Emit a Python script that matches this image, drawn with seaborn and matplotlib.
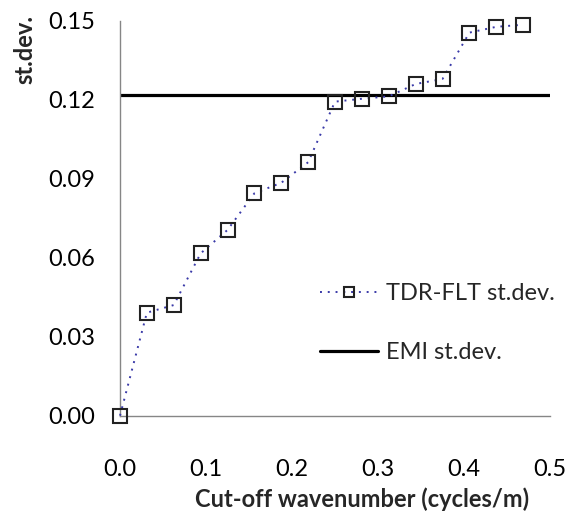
import matplotlib
matplotlib.use("Agg")
import matplotlib.pyplot as plt
import seaborn as sns
import pandas as pd
from matplotlib.ticker import FormatStrFormatter

# Data
cutoff = [0.0, 0.03125, 0.0625, 0.09375, 0.125, 0.15625, 0.1875, 0.21875,
          0.25, 0.28125, 0.3125, 0.34375, 0.375, 0.40625, 0.4375, 0.46875]
tdr_std = [0.0, 0.0391, 0.0420, 0.0616, 0.0705, 0.0844, 0.0884, 0.0962,
           0.1192, 0.1203, 0.1212, 0.1259, 0.1278, 0.1454, 0.1476, 0.1484]
emi_std = 0.1217
x_ticks = [0.0, 0.1, 0.2, 0.3, 0.4, 0.5]
y_ticks = [0.00, 0.03, 0.06, 0.09, 0.12, 0.15]
series_tdr = "TDR-FLT st.dev."
series_emi = "EMI st.dev."
x_label = "Cut-off wavenumber (cycles/m)"
y_label = "st.dev."

sns.set_style("white")
plt.rcParams['font.family'] = ['Lato', 'DejaVu Sans']

W, H = 568, 513
fig = plt.figure(figsize=(W / 100, H / 100), dpi=100)
ax = fig.add_axes([120 / W, 1 - 415.7 / H, 430 / W, (415.7 - 20.5) / H])

df = pd.DataFrame({"x": cutoff, "y": tdr_std})
gray = "#868686"

ax.axhline(emi_std, color="black", lw=2.3, label=series_emi, zorder=2)
sns.lineplot(data=df, x="x", y="y", ax=ax, color="#3a3aa8", lw=1.4,
             linestyle=(0, (1, 3)), marker="s", markersize=9.5,
             markerfacecolor="none", markeredgecolor="#222222",
             markeredgewidth=1.5, label=series_tdr, clip_on=False, zorder=3)

ax.set_xlim(0, 0.5)
ax.set_ylim(0, 0.15)
ax.set_xticks(x_ticks)
ax.set_yticks(y_ticks)
ax.xaxis.set_major_formatter(FormatStrFormatter("%.1f"))
ax.yaxis.set_major_formatter(FormatStrFormatter("%.2f"))

for s in ["top", "right"]:
    ax.spines[s].set_visible(False)
for s in ["left", "bottom"]:
    ax.spines[s].set_color(gray)
    ax.spines[s].set_linewidth(1.0)

ax.tick_params(axis="both", which="major", length=7, width=1.0, color=gray,
               labelsize=17, labelcolor="black")
ax.tick_params(axis="x", direction="out", pad=24)
ax.tick_params(axis="y", direction="out", pad=11)
ax.set_xlabel("")
ax.set_ylabel("")

fig.text(362 / W, 1 - 499 / H, x_label, ha="center", va="center",
         fontsize=17, fontweight="bold")
fig.text(25 / W, 1 - 49 / H, y_label, ha="center", va="center",
         rotation=90, fontsize=17, fontweight="bold")

handles, labels = ax.get_legend_handles_labels()
order = [labels.index(series_tdr), labels.index(series_emi)]
leg = ax.legend([handles[i] for i in order], [labels[i] for i in order],
                loc="upper left", bbox_to_anchor=(320 / W, 1 - 283 / H),
                bbox_transform=fig.transFigure, frameon=False, fontsize=17,
                handlelength=2.45, handletextpad=0.35, labelspacing=1.63,
                borderpad=0, borderaxespad=0)
leg.legend_handles[0].set_markersize(7.5)

fig.savefig("out.png", dpi=100)
